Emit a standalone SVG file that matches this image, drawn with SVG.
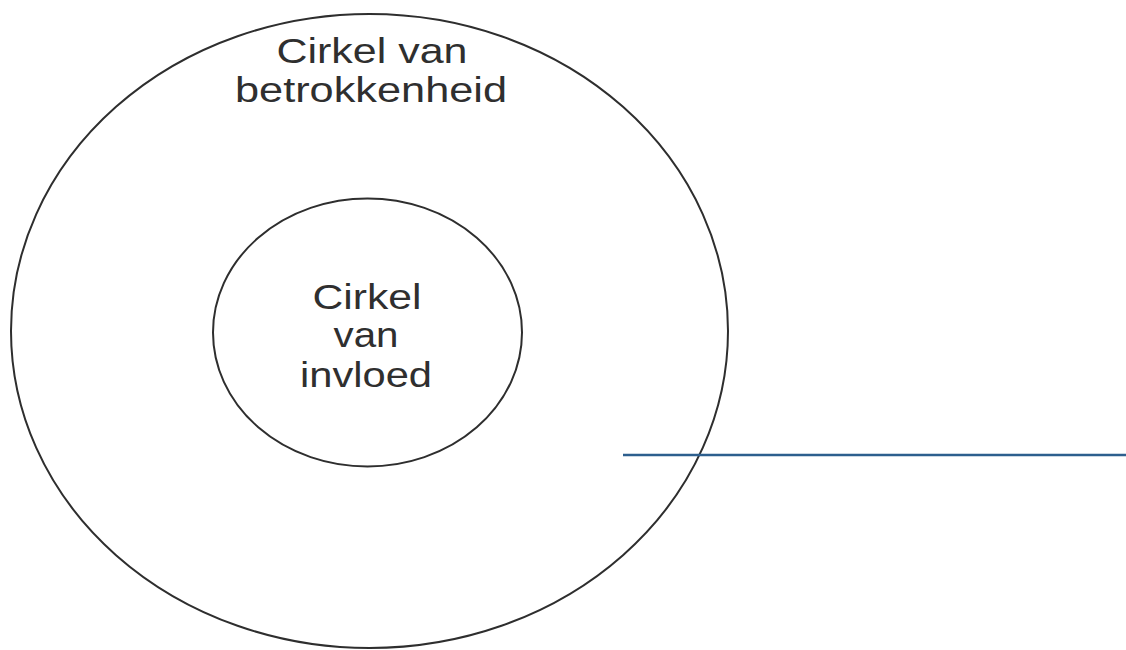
<svg xmlns="http://www.w3.org/2000/svg" width="1126" height="650" viewBox="0 0 1126 650">
  <style>
    .ring { fill: none; stroke: #2e2e2e; stroke-width: 2; }
    .label { font-family: "Liberation Sans", Arial, sans-serif; font-size: 35px; fill: #2f2f2f; text-anchor: middle; }
    .rule { stroke: #2d5f8e; stroke-width: 2.5; fill: none; }
  </style>
  <rect width="1126" height="650" fill="#ffffff"/>

  <!-- outer ring: circle of concern -->
  <g id="cirkel-betrokkenheid">
    <ellipse class="ring" cx="369.5" cy="331" rx="358.5" ry="317"/>
    <text class="label" x="372" y="63" textLength="191" lengthAdjust="spacingAndGlyphs">Cirkel van</text>
    <text class="label" x="371" y="102" textLength="272" lengthAdjust="spacingAndGlyphs">betrokkenheid</text>
  </g>

  <!-- inner ring: circle of influence -->
  <g id="cirkel-invloed">
    <ellipse class="ring" cx="367.5" cy="332.5" rx="154.5" ry="134"/>
    <text class="label" x="367" y="309" textLength="109" lengthAdjust="spacingAndGlyphs">Cirkel</text>
    <text class="label" x="366" y="347" textLength="65" lengthAdjust="spacingAndGlyphs">van</text>
    <text class="label" x="366" y="387" textLength="132" lengthAdjust="spacingAndGlyphs">invloed</text>
  </g>

  <!-- connectors -->
  <g id="connectors">
    <line class="rule" x1="623" y1="455" x2="1126" y2="455"/>
  </g>
</svg>
